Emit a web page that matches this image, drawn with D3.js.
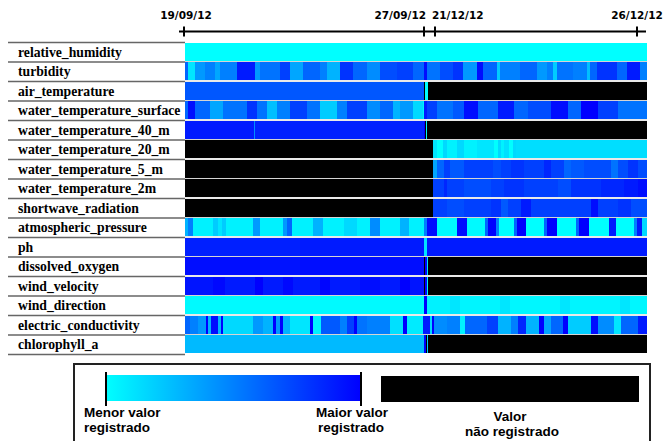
<!DOCTYPE html>
<html>
<head>
<meta charset="utf-8">
<script src="https://cdn.jsdelivr.net/npm/d3@7"></script>
<style>
  body { margin: 0; background: #fff; }
</style>
</head>
<body>
<div id="chart"></div>
<script>
// variables, top to bottom
const variables = [
    "relative_humidity", "turbidity", "air_temperature", "water_temperature_surface",
    "water_temperature_40_m", "water_temperature_20_m", "water_temperature_5_m", "water_temperature_2m",
    "shortwave_radiation", "atmospheric_pressure", "ph", "dissolved_oxygen",
    "wind_velocity", "wind_direction", "electric_conductivity", "chlorophyll_a"
];

const tickLabels = ["19/09/12", "27/09/12", "21/12/12", "26/12/12"];
const tickSamples = [0, 240, 251, 453];
const nSamples = 462;

// runs of [normalised value (0 = lowest, 1 = highest recorded), number of samples]; null = not recorded
const relative_humidity = [[0, 462]];
const turbidity = [[0.6,3],[0.1,7],[0.4,10],[0.5,10],[0.35,5],[0.5,17],[0.9,18],[0.4,5],[0.55,20],[0.75,10],[0.35,13],[0.6,17],[0.5,7],[0.3,13],[0.8,13],[0.6,14],[0.45,13],[0.7,17],[0.75,16],[0.6,11],[0.95,3],[0.55,13],[0.7,13],[0.8,10],[0.4,14],[0.95,6],[0.6,14],[0.2,3],[0.5,20],[0.6,17],[0.4,10],[0.5,6],[0.2,4],[0.55,16],[0.5,14],[0.25,3],[0.6,7],[0.8,20],[0.6,10],[0.9,13],[0.5,7]];
const air_temperature = [[0.66,239],[null,1],[0,3],[null,219]];
const water_temperature_surface = [[0.6,3],[0.95,7],[0.6,15],[0.35,13],[0.55,24],[0.8,10],[0.55,10],[0.25,10],[0.5,13],[0.75,17],[0.55,13],[0.2,17],[0.5,10],[0.75,20],[0.45,13],[0.6,13],[0.3,7],[0.4,13],[0.15,10],[0.05,1],[0.9,3],[0.75,10],[0.55,16],[0.65,11],[0.95,14],[0.6,20],[0.9,16],[0.6,14],[0.7,23],[0.95,17],[0.6,13],[1,17],[0.75,20],[0.55,29]];
const water_temperature_40_m = [[0.9,69],[0.45,1],[0.87,169],[1,1],[null,1],[0.05,1],[null,220]];
const water_temperature_20_m = [[null,248],[0.1,4],[0,6],[0.15,4],[0.05,10],[0.15,7],[0.05,13],[0.1,14],[0.1,3],[0,4],[0.15,3],[0.05,3],[0.12,5],[0,4],[0.15,3],[0.13,131]];
const water_temperature_5_m = [[null,248],[0.35,4],[0.6,7],[0.75,6],[0.65,14],[0.75,29],[0.7,8],[0.75,10],[0.8,13],[0.75,20],[0.85,7],[0.75,13],[0.6,7],[0.65,13],[0.7,27],[0.55,7],[0.7,10],[0.8,10],[0.7,9]];
const water_temperature_2m = [[null,248],[0.75,11],[0.85,3],[0.75,17],[0.7,27],[0.75,13],[0.8,20],[0.75,34],[0.7,13],[0.8,30],[0.85,23],[0.9,14],[0.95,9]];
const shortwave_radiation = [[null,248],[0.75,14],[0.7,17],[0.75,27],[0.8,10],[0.65,7],[0.75,13],[0.9,10],[0.75,60],[0.95,7],[0.75,20],[0.8,13],[0.7,16]];
const atmospheric_pressure = [[0.3,3],[0.5,5],[0.05,20],[0.2,5],[0.1,4],[0.2,4],[0.05,27],[0.4,7],[0.05,23],[0.4,4],[0.6,5],[0.05,21],[0.3,10],[0.05,21],[0.15,13],[0.05,13],[0.45,10],[0.05,20],[0.3,9],[0.05,15],[0.5,3],[0.95,10],[0.02,20],[0.95,10],[0.02,18],[0.6,3],[1,8],[0.5,3],[0,15],[0.6,3],[1,9],[0,18],[0.6,3],[1,10],[0,19],[0.6,3],[1,10],[0,20],[0.9,7],[0,18],[0.5,3],[0.9,5],[0.15,5]];
const ph = [[0.88,115],[0.9,124],[0.1,3],[0.9,220]];
const dissolved_oxygen = [[0.95,75],[0.93,40],[0.95,124],[null,1],[1,2],[0.1,1],[null,219]];
const wind_velocity = [[0.92,28],[0.97,12],[0.9,30],[1,8],[0.9,20],[0.97,10],[0.9,27],[0.98,10],[0.9,30],[0.95,20],[0.9,20],[1,10],[0.92,14],[null,1],[1,2],[0.05,1],[null,219]];
const wind_direction = [[0.02,239],[1,3],[0.05,23],[0.1,10],[0.04,40],[0.1,10],[0.03,50],[0.1,10],[0.04,50],[0.1,10],[0.03,17]];
const electric_conductivity = [[0.6,5],[0.5,8],[0.4,8],[1,2],[0.3,3],[0.95,7],[0.3,3],[1,2],[0.15,30],[0.4,10],[0.3,10],[1,3],[0.4,4],[1,3],[0.3,7],[0.1,20],[1,3],[0.05,8],[0.65,19],[0.5,7],[0.75,7],[1,3],[0.55,10],[0.5,23],[0.12,13],[1,4],[0.08,16],[0.9,7],[0.15,2],[1,2],[0.45,13],[0.5,13],[0.05,5],[0.6,22],[0.75,11],[0.3,13],[0.5,7],[0.85,8],[0.3,13],[1,5],[0.35,7],[0.6,12],[1,5],[0.2,23],[0.95,7],[0.45,16],[0.1,7],[0.6,17],[0.9,9]];
const chlorophyll_a = [[0.27,239],[1,2],[null,1],[0.2,1],[null,219]];

const series = {
    relative_humidity, turbidity, air_temperature, water_temperature_surface,
    water_temperature_40_m, water_temperature_20_m, water_temperature_5_m, water_temperature_2m,
    shortwave_radiation, atmospheric_pressure, ph, dissolved_oxygen,
    wind_velocity, wind_direction, electric_conductivity, chlorophyll_a
};

const width = 664, height = 441;

const svg = d3.select("#chart")
    .append("svg")
    .attr("width", width)
    .attr("height", height);

const x = d3.scaleLinear().domain([0, nSamples]).range([185, 647]);
const y = d3.scaleBand().domain(variables).range([42, 354]);
const color = d3.scaleLinear().domain([0, 1]).range(["#00ffff", "#0000ff"]);

// rows -> runs with start index
const rows = variables.map(name => {
    let s = 0;
    const runs = series[name].map(([v, n]) => {
        const r = { v, start: s, n };
        s += n;
        return r;
    });
    return { name, runs };
});

// heatmap cells
const rowG = svg.selectAll("g.row")
    .data(rows)
    .enter()
    .append("g")
    .attr("class", "row")
    .attr("transform", d => `translate(0, ${y(d.name)})`);

rowG.selectAll("rect")
    .data(d => d.runs)
    .enter()
    .append("rect")
    .attr("x", d => x(d.start))
    .attr("width", d => x(d.start + d.n) - x(d.start))
    .attr("y", 0.8)
    .attr("height", y.bandwidth() - 1.6)
    .attr("shape-rendering", "crispEdges")
    .attr("fill", d => d.v === null ? "#000" : color(d.v));

// row separators
const bounds = variables.map(v => y(v)).concat([y.range()[1]]);
svg.selectAll("line.sep")
    .data(bounds)
    .enter()
    .append("line")
    .attr("class", "sep")
    .attr("x1", 8).attr("x2", 185)
    .attr("y1", d => d + 0.5).attr("y2", d => d + 0.5)
    .attr("stroke", "#666")
    .attr("stroke-width", 1.5);

svg.selectAll("line.hsep")
    .data(bounds.slice(1, -1))
    .enter()
    .append("line")
    .attr("class", "hsep")
    .attr("x1", 185).attr("x2", 647)
    .attr("y1", d => d).attr("y2", d => d)
    .attr("stroke", "#d4d4d4")
    .attr("stroke-width", 1);

// labels
svg.selectAll("text.label")
    .data(variables)
    .enter()
    .append("text")
    .attr("class", "label")
    .attr("x", 18)
    .attr("y", d => y(d) + 14.5)
    .attr("font-family", "Liberation Serif, Times New Roman, serif")
    .attr("font-weight", "bold")
    .attr("font-size", "13.7px")
    .attr("fill", "#000")
    .text(d => d);

// top time axis
const axisG = svg.append("g").attr("transform", "translate(0, 31.5)");
axisG.append("line")
    .attr("x1", x(-6)).attr("x2", x(nSamples - 1))
    .attr("stroke", "#000")
    .attr("stroke-width", 2);
axisG.selectAll("line.tick")
    .data(tickSamples)
    .enter()
    .append("line")
    .attr("class", "tick")
    .attr("x1", d => x(d) - 1).attr("x2", d => x(d) - 1)
    .attr("y1", -5).attr("y2", 5)
    .attr("stroke", "#000")
    .attr("stroke-width", 2);
const anchors = ["middle", "end", "start", "middle"];
const nudges = [2, 2, -3, 0];
axisG.selectAll("text")
    .data(tickSamples)
    .enter()
    .append("text")
    .attr("x", (d, i) => x(d) - 1 + nudges[i])
    .attr("y", -12.5)
    .attr("text-anchor", (d, i) => anchors[i])
    .attr("font-family", "DejaVu Sans, Verdana, sans-serif")
    .attr("font-weight", "bold")
    .attr("font-size", "10.5px")
    .text((d, i) => tickLabels[i]);

// legend
const legendFont = "Liberation Sans, Arial, sans-serif";
const legend = svg.append("g");
legend.append("rect")
    .attr("x", 74).attr("y", 364)
    .attr("width", 576).attr("height", 100)
    .attr("fill", "none")
    .attr("stroke", "#222")
    .attr("stroke-width", 2);

const grad = svg.append("defs").append("linearGradient")
    .attr("id", "valueGrad");
grad.selectAll("stop")
    .data([0, 0.5, 1])
    .enter()
    .append("stop")
    .attr("offset", d => `${d * 100}%`)
    .attr("stop-color", d => color(d));

legend.append("rect")
    .attr("x", 106).attr("y", 375)
    .attr("width", 255).attr("height", 26)
    .attr("fill", "url(#valueGrad)");
legend.selectAll("line.edge")
    .data([106, 361])
    .enter()
    .append("line")
    .attr("x1", d => d).attr("x2", d => d)
    .attr("y1", 372).attr("y2", 406)
    .attr("stroke", "#000")
    .attr("stroke-width", 2);
legend.append("rect")
    .attr("x", 381).attr("y", 376)
    .attr("width", 258).attr("height", 26)
    .attr("fill", "#000");

const legendText = [
    { x: 84, y: 417, anchor: "start", t: "Menor valor" },
    { x: 84, y: 432, anchor: "start", t: "registrado" },
    { x: 316, y: 417, anchor: "start", t: "Maior valor" },
    { x: 318, y: 432, anchor: "start", t: "registrado" },
    { x: 510, y: 421, anchor: "middle", t: "Valor" },
    { x: 512, y: 436, anchor: "middle", t: "não registrado" }
];
legend.selectAll("text")
    .data(legendText)
    .enter()
    .append("text")
    .attr("x", d => d.x)
    .attr("y", d => d.y)
    .attr("text-anchor", d => d.anchor)
    .attr("font-family", legendFont)
    .attr("font-weight", "bold")
    .attr("font-size", "13.5px")
    .text(d => d.t);
</script>
</body>
</html>
